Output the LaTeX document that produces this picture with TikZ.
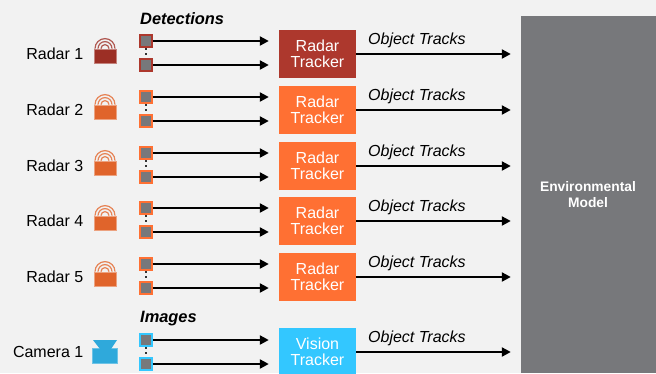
\documentclass[tikz,border=0pt]{standalone}
\usepackage{fontspec}
\setmainfont{Liberation Sans}
\usetikzlibrary{positioning, arrows.meta}
\definecolor{panelgray}{HTML}{F2F2F2}
\definecolor{blockgray}{HTML}{77787B}
\definecolor{trackerdark}{HTML}{AD382D}
\definecolor{trackerorange}{HTML}{FF7033}
\definecolor{trackerblue}{HTML}{33C7FF}
\definecolor{icondark}{HTML}{9C2F25}
\definecolor{iconorange}{HTML}{E0642B}
\definecolor{iconblue}{HTML}{2FA9DB}

\begin{document}
\begin{tikzpicture}[
		x=1pt, y=-1pt,
		every sensor/.style={inner sep=0pt, font=\fontsize{16}{16}\selectfont},
		every port/.style={minimum size=14pt, inner sep=0pt},
		every core/.style={fill=blockgray, minimum size=10pt, inner sep=0pt},
		every tracker/.style={minimum width=77pt, minimum height=48pt, inner sep=0pt, align=center, text=white, font=\fontsize{16}{16}\selectfont},
		every title/.style={inner sep=0pt, font=\fontsize{16.4}{16}\selectfont\bfseries\itshape},
		every track/.style={inner sep=0pt, font=\fontsize{16}{16}\selectfont\itshape},
		link/.style={line width=2.2pt, -{Triangle[length=9pt, width=9pt]}, shorten >=10pt},
		skip/.style={line width=2pt, black!80, dash pattern=on 2pt off 3pt}
	]

	\path [use as bounding box] (0, 0) rectangle (656, 373);
	\clip (0, 0) rectangle (656, 373);
	\fill [panelgray] (0, 0) rectangle (656, 373);

	\node [fill=blockgray, minimum width=135pt, minimum height=357pt, inner sep=0pt] (model) at (588.5, 194.5) {};
	\node [text=white, align=center, inner sep=0pt, font=\fontsize{13.8}{16}\selectfont\bfseries] (model-text) at (588, 195) {Environmental\\Model};

	\node [every title/.try, anchor=west] (detections) at (140, 19) {Detections};
	\node [every title/.try, anchor=west] (images) at (140, 319) {Images};

	\foreach \m/\y/\c/\i in {1/54/trackerdark/icondark, 2/110/trackerorange/iconorange, 3/166/trackerorange/iconorange, 4/221/trackerorange/iconorange, 5/277/trackerorange/iconorange} {
		\node [every sensor/.try, anchor=east] (radar-\m) at (83.5, \y) {Radar \m};

		% icon
		\node [fill=\i, draw=\i!60!white, line width=0.8pt, minimum width=22pt, minimum height=14pt, inner sep=0pt] (icon-\m) at (105, \y + 2) {};
		\foreach \r in {4, 7, 10}
			\draw [\i!80!white, line width=1.2pt] (icon-\m.north) ++(-\r, 0) arc [start angle=180, end angle=0, radius=\r, y radius=-\r];

		\node [every port/.try, fill=\c] (port-\m-1) at (145.5, \y - 13) {};
		\node [every port/.try, fill=\c] (port-\m-2) at (145.5, \y + 11) {};
		\node [every core/.try] (core-\m-1) at (port-\m-1) {};
		\node [every core/.try] (core-\m-2) at (port-\m-2) {};
		\draw [skip] (port-\m-1) -- (port-\m-2);

		\node [every tracker/.try, fill=\c] (tracker-\m) at (317.5, \y) {Radar\\Tracker};

		\foreach \j in {1, 2}
			\draw [link] (port-\m-\j) -- (tracker-\m.west |- port-\m-\j);

		\draw [link] (tracker-\m) -- (model.west |- tracker-\m);
		\node [every track/.try, anchor=west] (track-\m) at (368, \y - 14) {Object Tracks};
	}

	\node [every sensor/.try, anchor=east] (camera-1) at (83.5, 352) {Camera 1};

	% icon
	\node [fill=iconblue, draw=iconblue!70!white, line width=0.8pt, minimum width=25pt, minimum height=15pt, inner sep=0pt] (icon-6) at (104.5, 355.5) {};
	\fill [iconblue] (93, 340) -- (117, 340) -- (111, 349) -- (100, 349) -- cycle;

	\node [every port/.try, fill=trackerblue] (port-6-1) at (145.5, 340) {};
	\node [every port/.try, fill=trackerblue] (port-6-2) at (145.5, 364) {};
	\node [every core/.try] (core-6-1) at (port-6-1) {};
	\node [every core/.try] (core-6-2) at (port-6-2) {};
	\draw [skip] (port-6-1) -- (port-6-2);

	\node [every tracker/.try, fill=trackerblue] (tracker-6) at (317.5, 352) {Vision\\Tracker};

	\foreach \j in {1, 2}
		\draw [link] (port-6-\j) -- (tracker-6.west |- port-6-\j);

	\draw [link] (tracker-6) -- (model.west |- tracker-6);
	\node [every track/.try, anchor=west] (track-6) at (368, 338) {Object Tracks};
\end{tikzpicture}
\end{document}
